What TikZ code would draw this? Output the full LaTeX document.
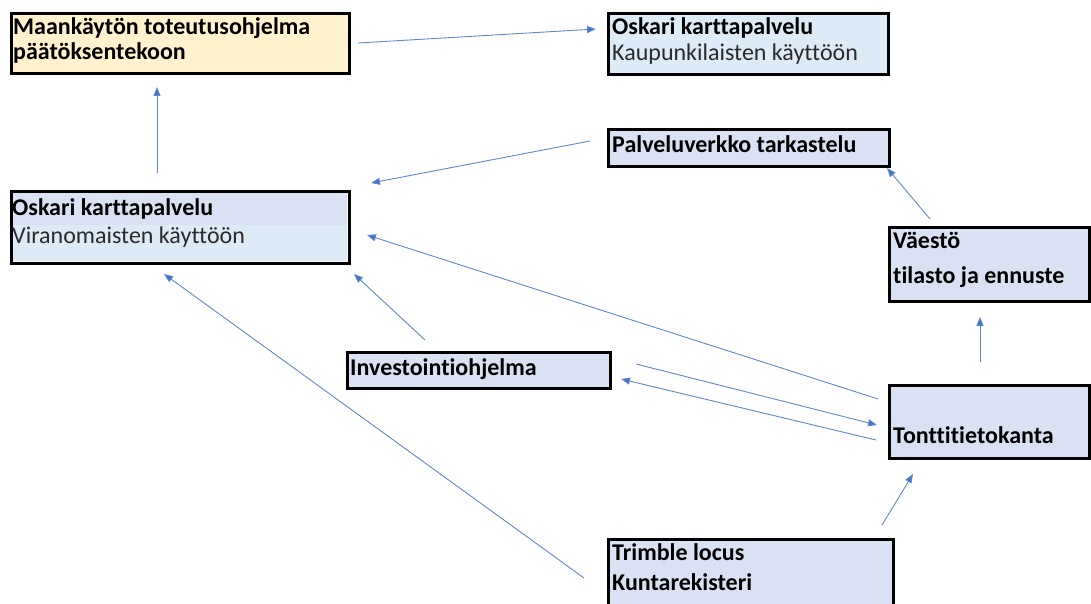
\documentclass[tikz,border=0pt]{standalone}
\usepackage{fontspec}
\setmainfont[Ligatures=NoCommon]{Carlito}
\usetikzlibrary{arrows.meta}
\definecolor{boxorange}{HTML}{FFF2CC}
\definecolor{boxlav}{HTML}{D9E1F2}
\definecolor{boxblue}{HTML}{DDEBF7}
\definecolor{arrowblue}{HTML}{4472C4}
\definecolor{subtext}{HTML}{2A2A2A}
\tikzset{
  box/.style={draw=black, line width=2.6pt, inner sep=0pt, anchor=north west},
  boldtxt/.style={anchor=base west, inner sep=0pt, font=\fontsize{24}{28}\selectfont\bfseries, text=black},
  normtxt/.style={anchor=base west, inner sep=0pt, font=\fontsize{24}{28}\selectfont, text=subtext},
  conn/.style={draw=arrowblue!85, line width=0.9pt, -{Triangle[length=9pt,width=7pt,fill=arrowblue]}},
}
\begin{document}
\begin{tikzpicture}[x=1pt,y=-1pt]
\useasboundingbox (0,0) rectangle (1091,604);
% boxes
\node[box, fill=boxorange, minimum width=338pt, minimum height=60pt] (b1) at (10,12) {};
\node[box, fill=boxblue, minimum width=280pt, minimum height=61pt] (b2) at (607,12) {};
\fill[boxlav] (10,190) rectangle (347,225);
\fill[boxblue] (10,225) rectangle (347,261);
\node[box, minimum width=338pt, minimum height=72pt] (b3) at (10,190) {};
\node[box, fill=boxlav, minimum width=281pt, minimum height=37pt] (b4) at (607,128) {};
\node[box, fill=boxlav, minimum width=200pt, minimum height=74pt] (b5) at (888,226) {};
\node[box, fill=boxlav, minimum width=263pt, minimum height=36pt] (b6) at (346,351) {};
\node[box, fill=boxlav, minimum width=200pt, minimum height=73pt] (b7) at (888,384) {};
\node[box, fill=boxlav, minimum width=285pt, minimum height=80pt] (b8) at (607,538) {};
% texts
\node[boldtxt] (t1a) at (13,35) {Maankäytön toteutusohjelma};
\node[boldtxt] (t1b) at (13,60) {päätöksentekoon};
\node[boldtxt] (t2a) at (612,35) {Oskari karttapalvelu};
\node[normtxt] (t2b) at (612,61) {Kaupunkilaisten käyttöön};
\node[boldtxt] (t3a) at (12,215) {Oskari karttapalvelu};
\node[normtxt] (t3b) at (12,243) {Viranomaisten käyttöön};
\node[boldtxt] (t4) at (612,153) {Palveluverkko tarkastelu};
\node[boldtxt] (t5a) at (893,248) {Väestö};
\node[boldtxt] (t5b) at (893,283) {tilasto ja ennuste};
\node[boldtxt] (t6) at (350,375) {Investointiohjelma};
\node[boldtxt] (t7) at (893,443) {Tonttitietokanta};
\node[boldtxt] (t8a) at (612,560) {Trimble locus};
\node[boldtxt] (t8b) at (612,590) {Kuntarekisteri};
% connector end points
\coordinate (c1s) at (358,43);  \coordinate (c1e) at (596,29);
\coordinate (c2s) at (157,173); \coordinate (c2e) at (157,87);
\coordinate (c3s) at (590,141); \coordinate (c3e) at (371,183);
\coordinate (c4s) at (930,219); \coordinate (c4e) at (887,168);
\coordinate (c5s) at (980,362); \coordinate (c5e) at (980,317);
\coordinate (c6s) at (425,340); \coordinate (c6e) at (354,274);
\coordinate (c7s) at (878,399); \coordinate (c7e) at (367,235);
\coordinate (c8s) at (636,364); \coordinate (c8e) at (877,425);
\coordinate (c9s) at (876,440); \coordinate (c9e) at (621,379);
\coordinate (c10s) at (584,578); \coordinate (c10e) at (164,274);
\coordinate (c11s) at (882,525); \coordinate (c11e) at (913,474);
% connectors
\draw[conn] (c1s) -- (c1e);
\draw[conn] (c2s) -- (c2e);
\draw[conn] (c3s) -- (c3e);
\draw[conn] (c4s) -- (c4e);
\draw[conn] (c5s) -- (c5e);
\draw[conn] (c6s) -- (c6e);
\draw[conn] (c7s) -- (c7e);
\draw[conn] (c8s) -- (c8e);
\draw[conn] (c9s) -- (c9e);
\draw[conn] (c10s) -- (c10e);
\draw[conn] (c11s) -- (c11e);
\end{tikzpicture}
\end{document}
